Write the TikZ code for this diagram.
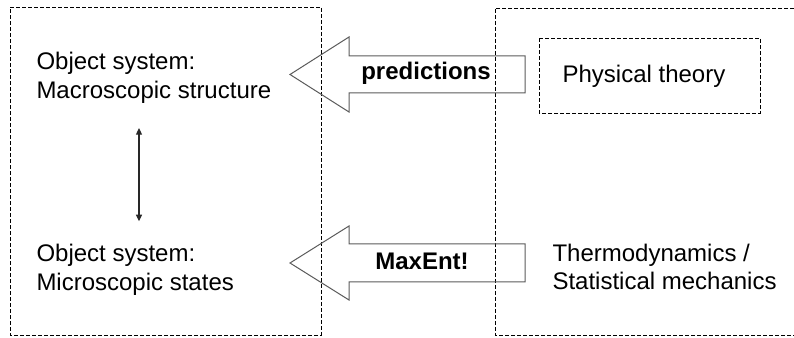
\documentclass[tikz,border=0pt]{standalone}
\usepackage{fontspec}
\setmainfont{Liberation Sans}
\usetikzlibrary{arrows.meta}

\tikzset{
	dash box/.style={draw=black, line width=0.6pt, dash pattern=on 3pt off 1.5pt},
	big arrow/.style={draw={rgb, 255:red, 90; green, 90; blue, 90 }, line width=0.75pt},
	label text/.style={inner sep=0pt, align=left, font=\fontsize{18}{21.5}\selectfont},
	arrow text/.style={inner sep=0pt, font=\fontsize{18}{21.5}\selectfont\bfseries}}
\tikzset{every picture/.style={line width=0.75pt}}

\begin{document}
\begin{tikzpicture}[x=0.75pt,y=0.75pt,yscale=-1,xscale=1]
	\useasboundingbox (0,0) rectangle (794,338);

	%Shape: Rectangle (object system)
	\draw [dash box] (10,7) -- (321,7) -- (321,335) -- (10,335) -- cycle ;
	%Shape: Rectangle (theory side, runs off the page)
	\draw [dash box] (800,8) -- (495,8) -- (495,335) -- (800,335) ;
	%Shape: Rectangle (physical theory)
	\draw [dash box] (539,38) -- (760,38) -- (760,113) -- (539,113) -- cycle ;

	%Left Arrow (predictions)
	\draw [big arrow] (525,56) -- (349,56) -- (349,37) -- (290,74.5) -- (349,112) -- (349,93) -- (525,93) -- cycle ;
	%Left Arrow (MaxEnt)
	\draw [big arrow] (525,244) -- (349,244) -- (349,226) -- (290,263) -- (349,300) -- (349,282) -- (525,282) -- cycle ;

	% Text Node
	\node [label text, anchor=west] (macro) at (36,78) {Object system:\\Macroscopic structure};
	% Text Node
	\node [label text, anchor=west] (micro) at (36,270) {Object system:\\Microscopic states};
	% Text Node
	\node [label text, anchor=base] (theory) at (644,83) {Physical theory};
	% Text Node
	\node [label text, anchor=west] (thermo) at (552,267) {Thermodynamics /\\Statistical mechanics};
	% Text Node
	\node [arrow text, anchor=base] (pred) at (426,80) {predictions};
	% Text Node
	\node [arrow text, anchor=base] (maxent) at (422,270) {MaxEnt!};

	%Double Arrow
	\draw [{Triangle[length=5pt,width=4.5pt]}-{Triangle[length=5pt,width=4.5pt]}, draw={rgb, 255:red, 40; green, 40; blue, 40 }, line width=0.9pt, shorten <=18pt, shorten >=17pt]
		(macro.south -| 139,0) -- (micro.north -| 139,0) ;

\end{tikzpicture}
\end{document}
